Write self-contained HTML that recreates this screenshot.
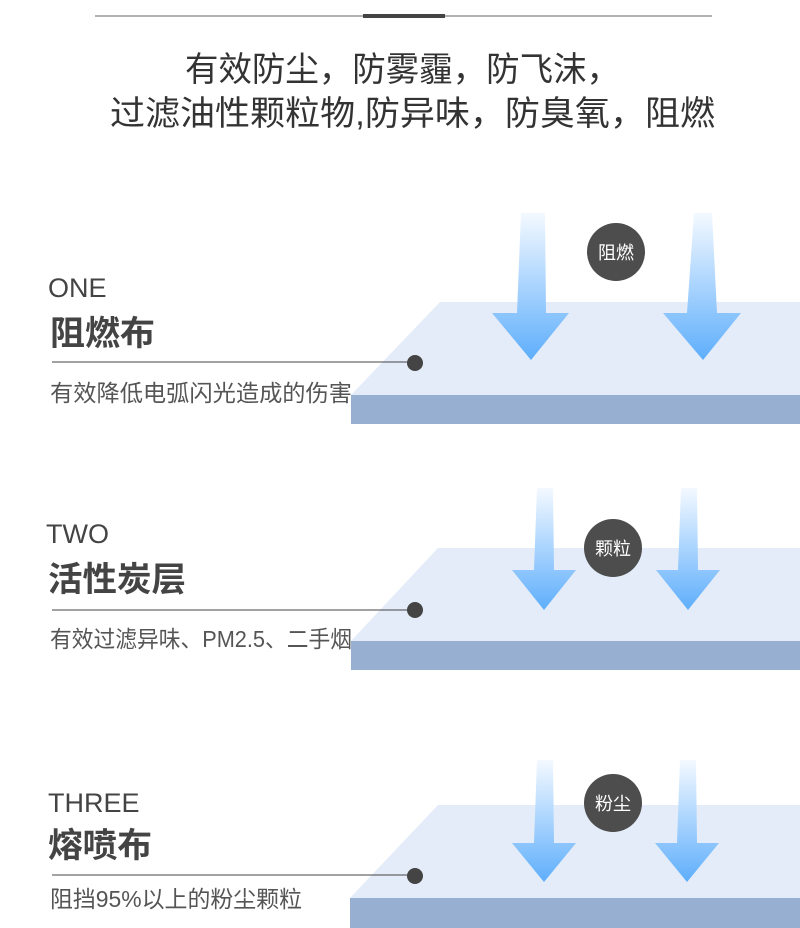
<!DOCTYPE html>
<html><head><meta charset="utf-8"><style>
body{margin:0;width:800px;height:928px;background:#fff;overflow:hidden;font-family:"Liberation Sans","Noto Sans CJK SC",sans-serif;}
svg{display:block}
</style></head><body>
<svg width="800" height="928" viewBox="0 0 800 928" xmlns="http://www.w3.org/2000/svg" font-family="Liberation Sans, Noto Sans CJK SC, sans-serif">
<defs>
<linearGradient id="g" x1="0" y1="0" x2="0" y2="1">
<stop offset="0" stop-color="#f4f9ff"/>
<stop offset="1" stop-color="#5eaefc"/>
</linearGradient>
</defs>
<line x1="95" y1="16" x2="712" y2="16" stroke="#999" stroke-width="1.5"/>
<rect x="363" y="14" width="82" height="4" fill="#444"/>
<text x="185" y="81" font-size="34" fill="#333" textLength="435" lengthAdjust="spacingAndGlyphs">有效防尘，防雾霾，防飞沫，</text>
<text x="110" y="125" font-size="34" fill="#333" textLength="605" lengthAdjust="spacingAndGlyphs">过滤油性颗粒物,防异味，防臭氧，阻燃</text>

<!-- layer 1 -->
<polygon points="351,395 440,302 800,302 800,395" fill="#e3ecf8"/>
<rect x="351" y="395" width="449" height="29" fill="#97b0d1"/>
<path d="M521,213 L545,213 L546,313 L569,313 L531,360 L492,313 L517,313 Z" fill="url(#g)"/>
<path d="M694,213 L712,213 L717,313 L741,313 L703,360 L663,313 L687,313 Z" fill="url(#g)"/>
<circle cx="616" cy="252" r="29" fill="#4d4d4d"/>
<text x="616" y="259" text-anchor="middle" font-size="18" fill="#fff">阻燃</text>
<line x1="52" y1="362" x2="415" y2="362" stroke="#444" stroke-width="1"/>
<circle cx="415" cy="363" r="8" fill="#444"/>
<text x="48" y="297" font-size="27" fill="#444">ONE</text>
<text x="50" y="345" font-size="34" font-weight="bold" fill="#444" textLength="105" lengthAdjust="spacingAndGlyphs">阻燃布</text>
<text x="50" y="401" font-size="23" fill="#555" textLength="302" lengthAdjust="spacingAndGlyphs">有效降低电弧闪光造成的伤害</text>

<!-- layer 2 -->
<polygon points="351,641 438,548 800,548 800,641" fill="#e3ecf8"/>
<rect x="351" y="641" width="449" height="29" fill="#97b0d1"/>
<path d="M537,488 L553,488 L554,570 L576,570 L544,610 L512,570 L534,570 Z" fill="url(#g)"/>
<path d="M681,488 L697,488 L698,570 L720,570 L688,610 L656,570 L678,570 Z" fill="url(#g)"/>
<circle cx="613" cy="548" r="29" fill="#4d4d4d"/>
<text x="613" y="555" text-anchor="middle" font-size="18" fill="#fff">颗粒</text>
<line x1="52" y1="610" x2="415" y2="610" stroke="#444" stroke-width="1"/>
<circle cx="415" cy="610" r="8" fill="#444"/>
<text x="46" y="543" font-size="27" fill="#444">TWO</text>
<text x="48" y="591" font-size="34" font-weight="bold" fill="#444" textLength="138" lengthAdjust="spacingAndGlyphs">活性炭层</text>
<text x="50" y="647" font-size="23" fill="#555" textLength="302" lengthAdjust="spacingAndGlyphs">有效过滤异味、PM2.5、二手烟</text>

<!-- layer 3 -->
<polygon points="350,898 438,805 800,805 800,898" fill="#e3ecf8"/>
<rect x="350" y="898" width="450" height="30" fill="#97b0d1"/>
<path d="M537,760 L553,760 L554,843 L576,843 L544,882 L512,843 L534,843 Z" fill="url(#g)"/>
<path d="M680,760 L696,760 L697,843 L719,843 L687,882 L655,843 L677,843 Z" fill="url(#g)"/>
<circle cx="613" cy="803" r="29" fill="#4d4d4d"/>
<text x="613" y="810" text-anchor="middle" font-size="18" fill="#fff">粉尘</text>
<line x1="52" y1="875" x2="415" y2="875" stroke="#444" stroke-width="1"/>
<circle cx="415" cy="876" r="8" fill="#444"/>
<text x="48" y="812" font-size="27" fill="#444">THREE</text>
<text x="48" y="857" font-size="34" font-weight="bold" fill="#444" textLength="104" lengthAdjust="spacingAndGlyphs">熔喷布</text>
<text x="50" y="907" font-size="23" fill="#555" textLength="252" lengthAdjust="spacingAndGlyphs">阻挡95%以上的粉尘颗粒</text>
</svg>
</body></html>
